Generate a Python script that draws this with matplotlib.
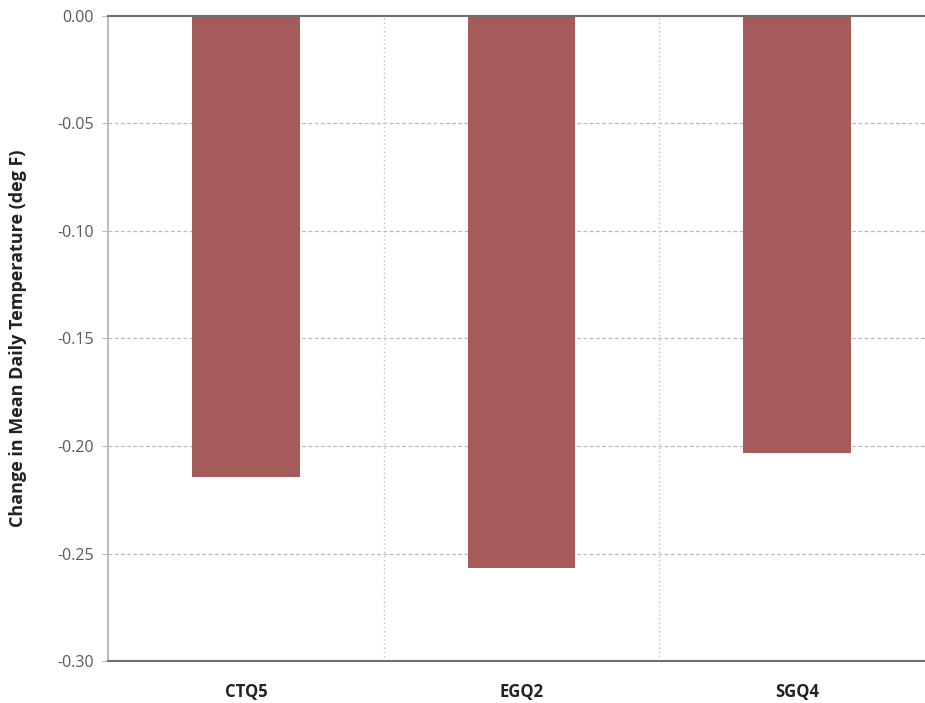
import matplotlib.pyplot as plt

# data
sites = ["CTQ5", "EGQ2", "SGQ4"]
temp_change = [-0.2144, -0.2567, -0.2033]
y_ticks = [0.00, -0.05, -0.10, -0.15, -0.20, -0.25, -0.30]

plt.rcParams['font.family'] = ['Open Sans', 'DejaVu Sans']

fig = plt.figure(figsize=(9.25, 7.03), dpi=100)
ax = fig.add_axes([0.1168, 0.0597, 0.894, 0.9176])

x = range(len(sites))
ax.bar(x, temp_change, width=0.39, color="#a55b5a", zorder=3)

ax.set_xlim(-0.5, 2.5)
ax.set_ylim(-0.30, 0.0)
ax.set_yticks(y_ticks)
ax.set_yticklabels([f"{v:.2f}" for v in y_ticks])
ax.set_xticks(list(x))
ax.set_xticklabels(sites, fontsize=12, fontweight="bold", color="#222222")

# grid: dashed horizontals, dotted verticals at category edges
for v in y_ticks[1:-1]:
    ax.axhline(v, color="#b8b8b8", linestyle=(0, (3, 2)), linewidth=0.9, zorder=1)
for b in [0.5, 1.5]:
    ax.axvline(b, color="#c0c0c0", linestyle=(0, (1, 2)), linewidth=1.0, zorder=1)

ax.spines['right'].set_visible(False)
ax.spines['top'].set_color("#6e6e6e")
ax.spines['top'].set_linewidth(1.5)
ax.spines['bottom'].set_color("#6e6e6e")
ax.spines['bottom'].set_linewidth(1.5)
ax.spines['left'].set_color("#bdbdbd")
ax.spines['left'].set_linewidth(1.5)
ax.spines['top'].set_zorder(4)

ax.tick_params(axis="y", length=4, color="#bdbdbd", labelsize=11.5, labelcolor="#595959", pad=6)
ax.tick_params(axis="x", length=0, pad=16)

ax.set_ylabel("Change in Mean Daily Temperature (deg F)", fontsize=13,
              fontweight="bold", color="#222222", labelpad=22)

fig.savefig("out.png", dpi=100)
